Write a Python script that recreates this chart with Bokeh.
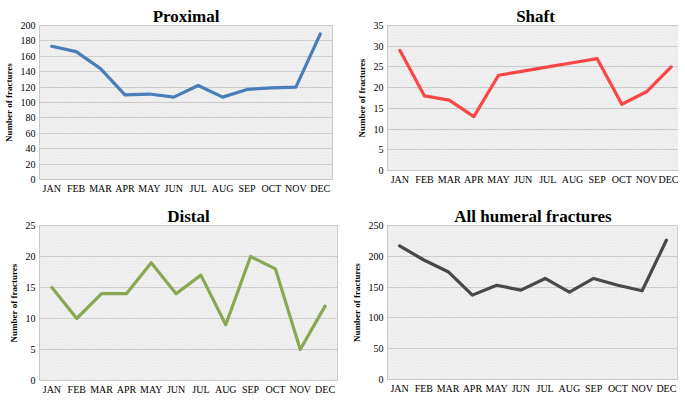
from bokeh.plotting import figure
from bokeh.layouts import gridplot
from bokeh.models import BoxAnnotation, SingleIntervalTicker, Range1d, FactorRange, ColumnDataSource
from bokeh.embed import file_html
from bokeh.resources import INLINE

months = ["JAN", "FEB", "MAR", "APR", "MAY", "JUN", "JUL", "AUG", "SEP", "OCT", "NOV", "DEC"]
proximal = [173, 166, 144, 110, 111, 107, 122, 107, 117, 119, 120, 189]
shaft = [29, 18, 17, 13, 23, 24, 25, 26, 27, 16, 19, 25]
distal = [15, 10, 14, 14, 19, 14, 17, 9, 20, 18, 5, 12]
all_humeral = [217, 194, 175, 137, 153, 145, 164, 142, 164, 153, 144, 226]

FONT = "Liberation Serif"


def make(title, values, color, ymax, step, fw, fh, bl, br, bt, bb, toff):
    p = figure(x_range=FactorRange(*months), y_range=Range1d(0, ymax),
               frame_width=fw, frame_height=fh, output_backend="svg", toolbar_location=None,
               min_border_left=bl, min_border_right=br, min_border_top=bt, min_border_bottom=bb)
    p.title.text = title
    p.title.align = "center"
    p.title.offset = toff
    p.title.text_font = FONT
    p.title.text_font_size = "17px"
    p.title.text_font_style = "bold"
    p.title.text_color = "#000000"
    p.title.standoff = 0
    p.background_fill_color = "#f2f2f2"
    p.border_fill_color = "white"
    p.outline_line_color = "#c8c8c8"
    p.outline_line_width = 1
    hatch = BoxAnnotation(fill_alpha=0, line_color=None, hatch_pattern="/",
                          hatch_color="#e2e2e2", hatch_scale=3, hatch_weight=0.5,
                          level="underlay")
    p.add_layout(hatch)
    p.xgrid.grid_line_color = None
    p.ygrid.grid_line_color = "#c4c4c4"
    p.ygrid.grid_line_width = 1
    p.yaxis.ticker = SingleIntervalTicker(interval=step, num_minor_ticks=0)
    for ax in (p.xaxis, p.yaxis):
        ax.axis_line_color = None
        ax.major_tick_line_color = None
        ax.minor_tick_line_color = None
        ax.major_tick_out = 0
        ax.major_tick_in = 0
        ax.minor_tick_out = 0
        ax.minor_tick_in = 0
        ax.major_label_text_font = FONT
        ax.major_label_text_font_size = "10px"
        ax.major_label_text_color = "#000000"
        ax.major_label_standoff = 4
    p.xaxis.major_label_standoff = 3
    p.yaxis.axis_label = "Number of fractures"
    p.yaxis.axis_label_text_font = FONT
    p.yaxis.axis_label_text_font_size = "9px"
    p.yaxis.axis_label_text_font_style = "bold"
    p.yaxis.axis_label_text_color = "#000000"
    p.yaxis.axis_label_standoff = 4
    src = ColumnDataSource(dict(x=months, y=values))
    p.line("x", "y", source=src, line_width=3.2, line_color=color, line_join="round", line_cap="round")
    return p


p1 = make("Proximal", proximal, "#4a7ebb", 200, 20, 293, 154, 30, 7, 20, 18, -17.5)
p2 = make("Shaft", shaft, "#fb4646", 35, 5, 296, 145, 43, 0, 25, 22, -12)
p3 = make("Distal", distal, "#89a852", 25, 5, 298, 155, 25, 7, 31, 15, -15)
p4 = make("All humeral fractures", all_humeral, "#484848", 250, 50, 291, 154, 48, 0, 32, 15, -13.5)

grid = gridplot([[p1, p2], [p3, p4]], toolbar_location=None)

open("out.html", "w").write(file_html(grid, INLINE))
